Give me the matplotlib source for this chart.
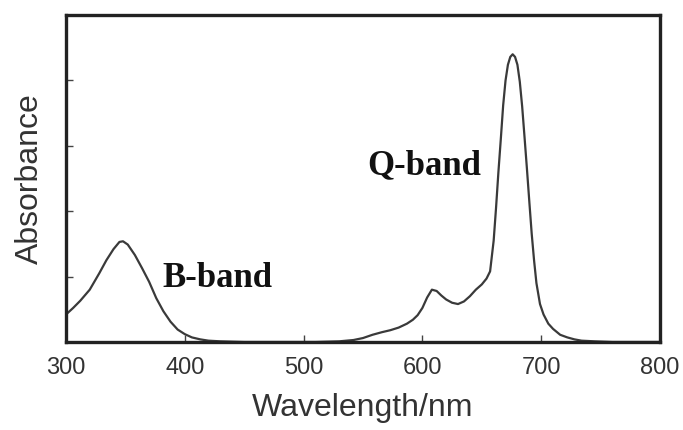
import matplotlib.pyplot as plt
import numpy as np

# absorbance spectrum
wavelength = [300, 306, 312, 320, 328, 334, 340, 345, 348, 352, 358, 364, 370, 376, 382,
              388, 394, 400, 406, 413, 420, 430, 450, 480, 510, 530, 542, 550, 558,
              566, 573, 580, 587, 592, 596, 600, 604, 608, 612, 616, 620, 625, 630,
              635, 640, 645, 650, 654, 657, 660, 662, 664, 666, 668, 670, 672, 674,
              676, 678, 680, 682, 684, 686, 688, 690, 692, 694, 696, 699, 702, 706,
              710, 716, 722, 728, 734, 745, 760, 780, 800]
absorbance = [0.42, 0.52, 0.63, 0.80, 1.05, 1.25, 1.42, 1.53, 1.54, 1.49, 1.33, 1.13, 0.92,
              0.67, 0.47, 0.31, 0.19, 0.12, 0.07, 0.04, 0.02, 0.01, 0.0, 0.0, 0.0, 0.01,
              0.03, 0.06, 0.11, 0.15, 0.18, 0.22, 0.28, 0.34, 0.41, 0.52, 0.68, 0.80,
              0.78, 0.71, 0.65, 0.60, 0.58, 0.62, 0.70, 0.80, 0.88, 0.97, 1.08, 1.55,
              2.05, 2.60, 3.10, 3.62, 4.00, 4.24, 4.36, 4.40, 4.36, 4.24, 3.98, 3.60,
              3.13, 2.65, 2.15, 1.66, 1.25, 0.90, 0.58, 0.42, 0.28, 0.20, 0.11, 0.07,
              0.04, 0.02, 0.01, 0.0, 0.0, 0.0]

x_ticks = [300, 400, 500, 600, 700, 800]
y_ticks = [1, 2, 3, 4]

plt.rcParams['font.family'] = ['Liberation Sans', 'DejaVu Sans']

fig = plt.figure(figsize=(6.83, 4.30), dpi=100)
ax = fig.add_axes([0.0966, 0.2047, 0.8697, 0.7603])

ax.plot(wavelength, absorbance, color='#3a3a3a', lw=1.6)

ax.set_xlim(300, 800)
ax.set_ylim(0, 5)
ax.set_xticks(x_ticks)
ax.set_yticks(y_ticks)
ax.set_yticklabels([])
ax.tick_params(axis='x', direction='in', length=5, width=1, color='#444',
               labelsize=17, labelcolor='#333', pad=11)
ax.tick_params(axis='y', direction='in', length=5, width=1, color='#444')
for s in ax.spines.values():
    s.set_linewidth(2.4)
    s.set_color('#222')

ax.set_xlabel('Wavelength/nm', fontsize=23, color='#333', labelpad=10)
ax.set_ylabel('Absorbance', fontsize=23, color='#333', labelpad=12)

ax.text(381, 0.84, 'B-band', family='Liberation Serif', fontweight='bold',
        fontsize=25, color='#111', ha='left', va='baseline')
ax.text(554, 2.57, 'Q-band', family='Liberation Serif', fontweight='bold',
        fontsize=25, color='#111', ha='left', va='baseline')

fig.savefig('out.png', dpi=100)
